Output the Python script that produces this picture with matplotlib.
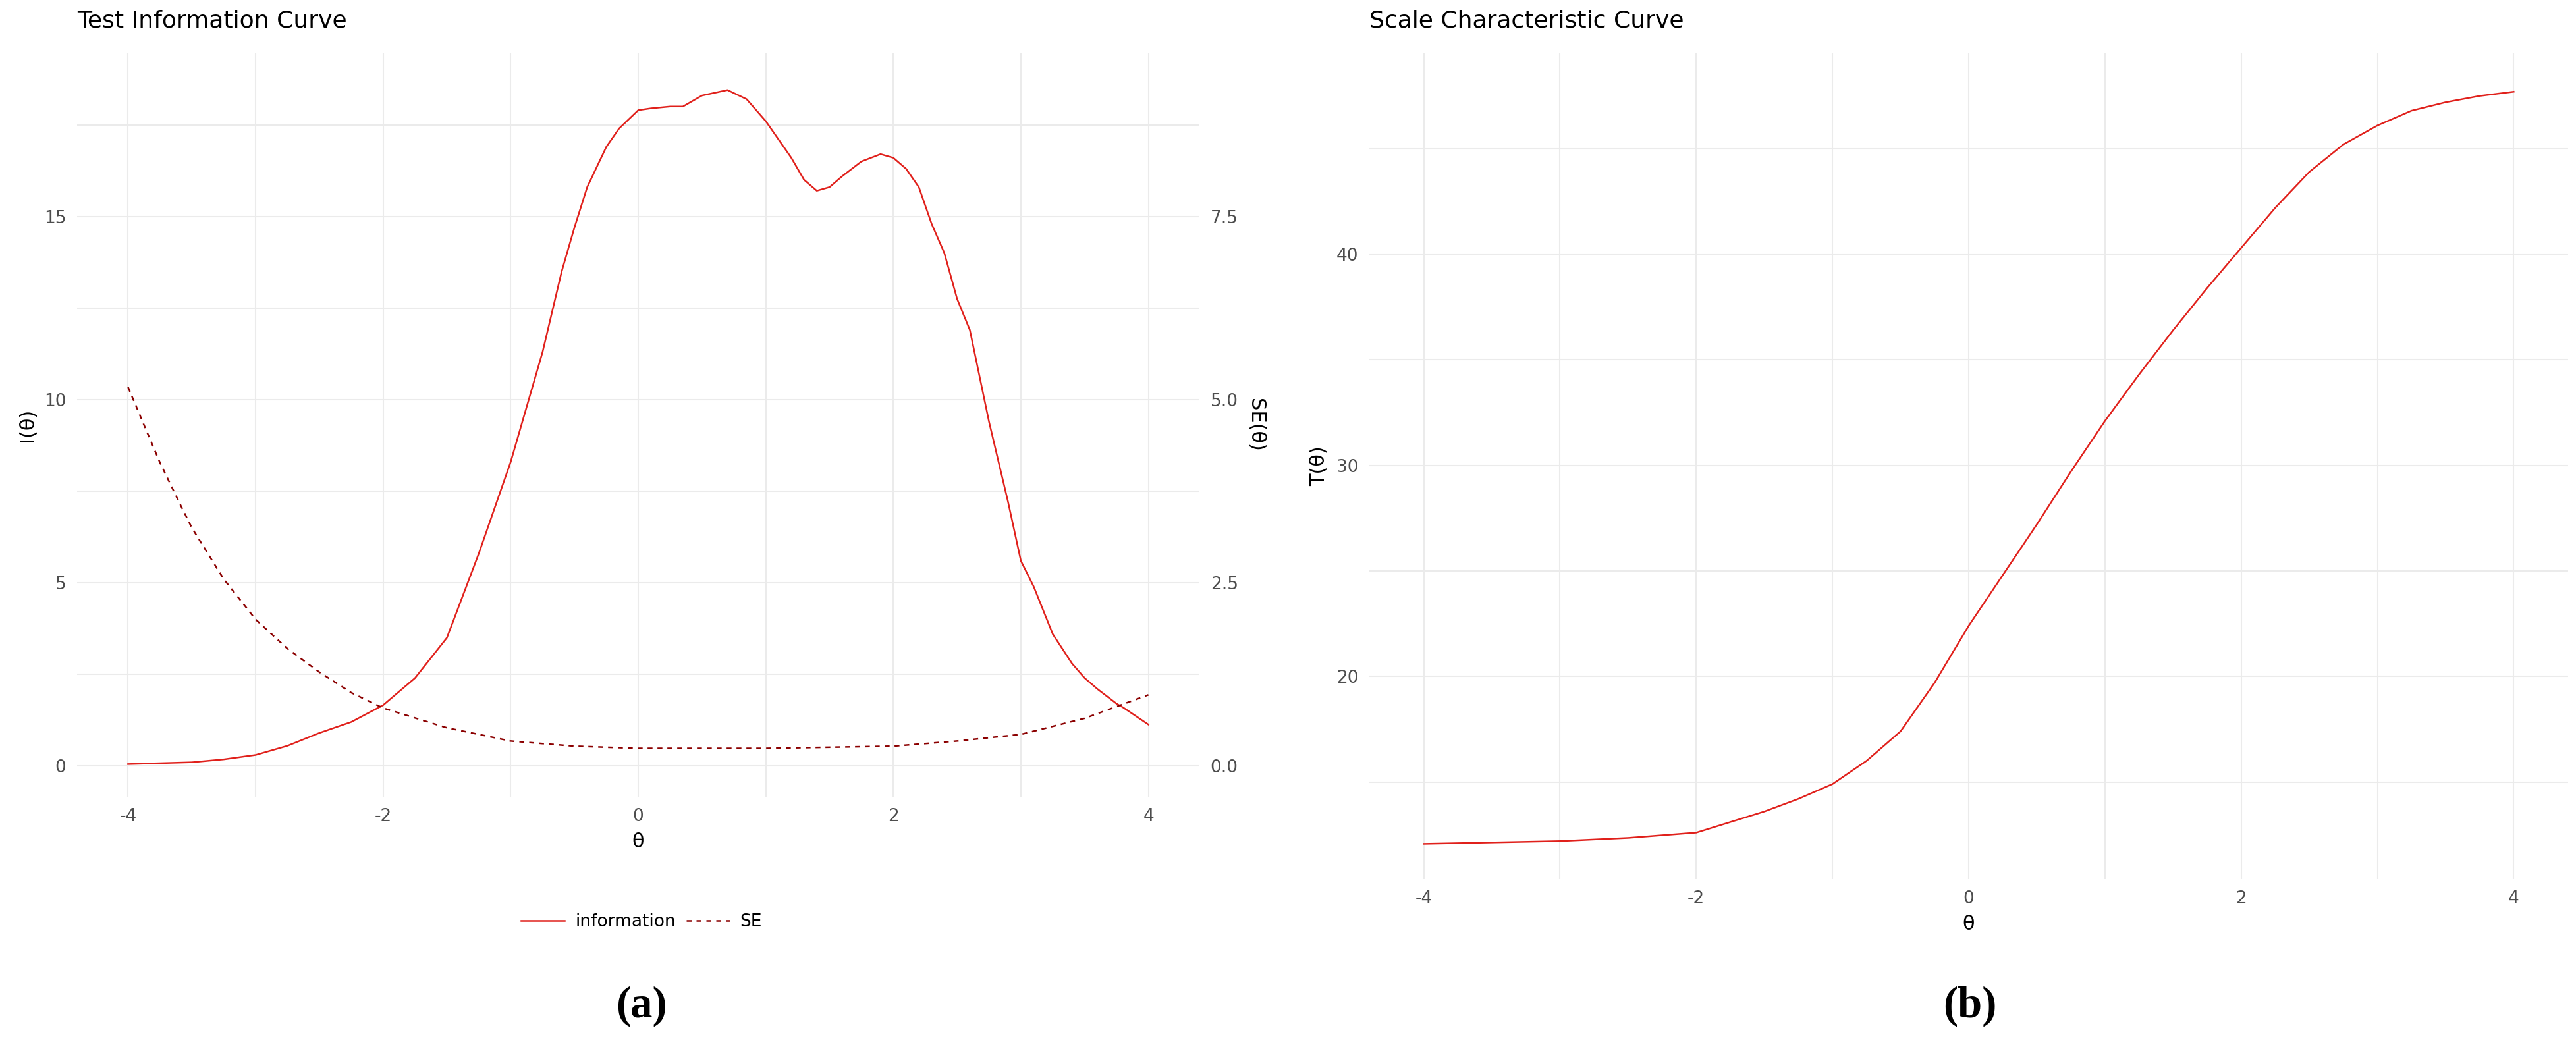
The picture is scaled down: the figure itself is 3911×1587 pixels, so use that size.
import matplotlib
matplotlib.use("Agg")
import matplotlib.pyplot as plt
from matplotlib.lines import Line2D

theta_info = [-4, -3.5, -3.25, -3, -2.75, -2.5, -2.25, -2, -1.75, -1.5, -1.25, -1, -0.75, -0.6, -0.5, -0.4, -0.25, -0.15, 0, 0.1, 0.25, 0.35, 0.5, 0.7, 0.85, 1.0, 1.1, 1.2, 1.3, 1.4, 1.5, 1.6, 1.75, 1.9, 2.0, 2.1, 2.2, 2.3, 2.4, 2.5, 2.6, 2.75, 2.9, 3.0, 3.1, 3.25, 3.4, 3.5, 3.6, 3.75, 3.8, 4]
info = [0.05, 0.1, 0.18, 0.3, 0.55, 0.9, 1.2, 1.66, 2.4, 3.5, 5.8, 8.3, 11.3, 13.5, 14.7, 15.8, 16.9, 17.4, 17.9, 17.95, 18.0, 18.0, 18.3, 18.45, 18.2, 17.6, 17.1, 16.6, 16.0, 15.7, 15.8, 16.1, 16.5, 16.7, 16.6, 16.3, 15.8, 14.8, 14.0, 12.75, 11.9, 9.4, 7.2, 5.6, 4.9, 3.6, 2.8, 2.4, 2.1, 1.7, 1.6, 1.13]
theta_se = [-4, -3.85, -3.75, -3.6, -3.5, -3.25, -3, -2.75, -2.5, -2.25, -2, -1.5, -1, -0.5, 0, 1, 2, 2.5, 3, 3.5, 4]
se = [5.17, 4.55, 4.14, 3.6, 3.25, 2.55, 2.0, 1.6, 1.28, 1.0, 0.79, 0.52, 0.34, 0.27, 0.24, 0.24, 0.27, 0.34, 0.43, 0.65, 0.97]
theta_scc = [-4, -3, -2.5, -2, -1.75, -1.5, -1.25, -1, -0.75, -0.5, -0.25, 0, 0.25, 0.5, 0.75, 1, 1.25, 1.5, 1.75, 2, 2.25, 2.5, 2.75, 3, 3.25, 3.5, 3.75, 4]
tscore = [12.07, 12.2, 12.35, 12.6, 13.1, 13.6, 14.2, 14.9, 16.0, 17.4, 19.7, 22.4, 24.8, 27.2, 29.7, 32.1, 34.3, 36.4, 38.4, 40.3, 42.2, 43.9, 45.2, 46.1, 46.8, 47.2, 47.5, 47.7]

RED = "#E0201B"
DARK = "#8B0000"
GRID = "#EBEBEB"
TXT = "#4D4D4D"

fig = plt.figure(figsize=(39.12, 15.87), dpi=100)

def style(ax):
    for s in ax.spines.values():
        s.set_visible(False)
    ax.tick_params(which="both", length=0, labelsize=19, colors=TXT, pad=12)
    ax.grid(which="both", color=GRID, linewidth=1.5)
    ax.set_axisbelow(True)

ax1 = fig.add_axes([0.0299, 0.2376, 0.4356, 0.712])
style(ax1)
ax1.plot(theta_info, info, color=RED, lw=1.8)
ax1.set_xlim(-4.4, 4.4)
ax1.set_ylim(-0.84, 19.47)
ax1.set_xticks([-4, -2, 0, 2, 4]); ax1.set_xticklabels(["-4", "-2", "0", "2", "4"])
ax1.set_xticks([-3, -1, 1, 3], minor=True)
ax1.set_yticks([0, 5, 10, 15]); ax1.set_yticks([2.5, 7.5, 12.5, 17.5], minor=True)
ax1.set_xlabel("θ", fontsize=22, labelpad=8)
ax1.set_ylabel("I(θ)", fontsize=22, labelpad=8)
ax1.set_title("Test Information Curve", loc="left", fontsize=26, pad=28)
ax2 = ax1.twinx()
for s in ax2.spines.values():
    s.set_visible(False)
ax2.tick_params(which="both", length=0, labelsize=19, colors=TXT, pad=12)
ax2.set_ylim(-0.42, 9.735)
ax2.set_yticks([0, 2.5, 5, 7.5]); ax2.set_yticklabels(["0.0", "2.5", "5.0", "7.5"])
ax2.plot(theta_se, se, color=DARK, lw=1.8, ls=(0, (3, 3)))
ax2.set_ylabel("SE(θ)", fontsize=22, rotation=270, labelpad=30)

handles = [Line2D([], [], color=RED, lw=1.8), Line2D([], [], color=DARK, lw=1.8, ls=(0, (3, 3)))]
fig.legend(handles, ["information", "SE"], loc="center", bbox_to_anchor=(0.249, 1 - 1400 / 1587),
           ncol=2, frameon=False, fontsize=19, handlelength=2.5, columnspacing=0.6, handletextpad=0.6)

ax3 = fig.add_axes([0.5314, 0.1588, 0.4653, 0.7908])
style(ax3)
ax3.plot(theta_scc, tscore, color=RED, lw=1.8)
ax3.set_xlim(-4.4, 4.4)
ax3.set_ylim(10.4, 49.55)
ax3.set_xticks([-4, -2, 0, 2, 4]); ax3.set_xticklabels(["-4", "-2", "0", "2", "4"])
ax3.set_xticks([-3, -1, 1, 3], minor=True)
ax3.set_yticks([20, 30, 40]); ax3.set_yticks([15, 25, 35, 45], minor=True)
ax3.set_xlabel("θ", fontsize=22, labelpad=8)
ax3.set_ylabel("T(θ)", fontsize=22, labelpad=8)
ax3.set_title("Scale Characteristic Curve", loc="left", fontsize=26, pad=28)

ylab = 1 - 1528 / 1587
fig.text(0.249, ylab, "(a)", fontsize=48, family="Liberation Serif", weight="bold", ha="center", va="center")
fig.text(0.7645, ylab, "(b)", fontsize=48, family="Liberation Serif", weight="bold", ha="center", va="center")

fig.savefig("out.png", dpi=100, facecolor="white")
